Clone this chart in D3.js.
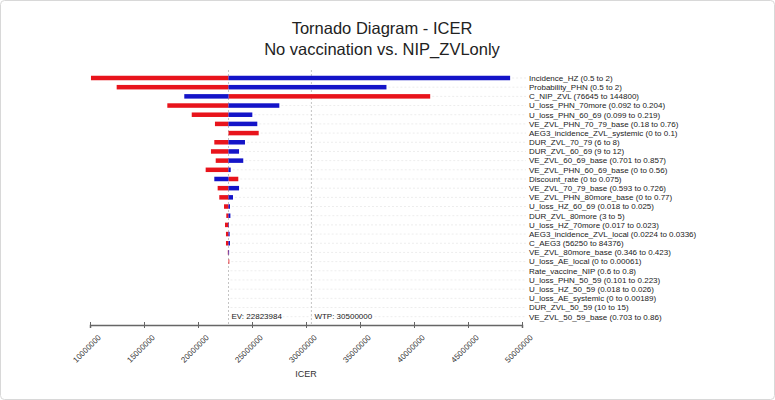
<!DOCTYPE html>
<html>
<head>
<meta charset="utf-8">
<script src="https://cdn.jsdelivr.net/npm/d3@7"></script>
<style>
body { margin: 0; background: #fff; }
svg { font-family: "Liberation Sans", Arial, sans-serif; }
</style>
</head>
<body>
<div id="chart"></div>
<script>
// parameters, top to bottom
var params = ["Incidence_HZ (0.5 to 2)", "Probability_PHN (0.5 to 2)", "C_NIP_ZVL (76645 to 144800)",
    "U_loss_PHN_70more (0.092 to 0.204)", "U_loss_PHN_60_69 (0.099 to 0.219)", "VE_ZVL_PHN_70_79_base (0.18 to 0.76)",
    "AEG3_incidence_ZVL_systemic (0 to 0.1)", "DUR_ZVL_70_79 (6 to 8)", "DUR_ZVL_60_69 (9 to 12)",
    "VE_ZVL_60_69_base (0.701 to 0.857)", "VE_ZVL_PHN_60_69_base (0 to 0.56)", "Discount_rate (0 to 0.075)",
    "VE_ZVL_70_79_base (0.593 to 0.726)", "VE_ZVL_PHN_80more_base (0 to 0.77)", "U_loss_HZ_60_69 (0.018 to 0.025)",
    "DUR_ZVL_80more (3 to 5)", "U_loss_HZ_70more (0.017 to 0.023)", "AEG3_incidence_ZVL_local (0.0224 to 0.0336)",
    "C_AEG3 (56250 to 84376)", "VE_ZVL_80more_base (0.346 to 0.423)", "U_loss_AE_local (0 to 0.00061)",
    "Rate_vaccine_NIP (0.6 to 0.8)", "U_loss_PHN_50_59 (0.101 to 0.223)", "U_loss_HZ_50_59 (0.018 to 0.026)",
    "U_loss_AE_systemic (0 to 0.00189)", "DUR_ZVL_50_59 (10 to 15)", "VE_ZVL_50_59_base (0.703 to 0.86)"];

var ev = 22823984;
var wtp = 30500000;

// ICER at the high end of each range (red) and at the low end (blue)
var icerHigh = [10090000, 12470000, 41500000, 17160000, 19420000, 21570000, 25620000, 21510000, 21200000,
    21640000, 20710000, 23730000, 21820000, 21970000, 22410000, 22620000, 22500000, 22590000,
    22590000, 22760000, 22900000, 22823984, 22823984, 22823984, 22823984, 22823984, 22823984];
var icerLow = [48900000, 37450000, 18730000, 27530000, 25030000, 25490000, 22823984, 24350000, 23800000,
    24190000, 23030000, 21510000, 23800000, 23240000, 22960000, 23000000, 22870000, 22930000,
    22960000, 22880000, 22823984, 22823984, 22823984, 22823984, 22823984, 22823984, 22823984];

var tickVals = [10000000, 15000000, 20000000, 25000000, 30000000, 35000000, 40000000, 45000000, 50000000];

var W = 775, H = 400;

var svg = d3.select("#chart").append("svg")
    .attr("width", W)
    .attr("height", H);

// light frame
svg.append("rect")
    .attr("x", 0.5).attr("y", 0.5)
    .attr("width", W - 1).attr("height", H - 1)
    .attr("rx", 4)
    .attr("fill", "#fff")
    .attr("stroke", "#d8d8d8");

var x = d3.scaleLinear().domain([10000000, 50000000]).range([90, 522]);
var y = d3.scalePoint().domain(params).range([78, 316.7]);
var barH = 4.5;
var labelX = 529;

// title
svg.append("text")
    .attr("x", 382).attr("y", 34)
    .attr("text-anchor", "middle")
    .attr("font-size", "16.5px")
    .attr("fill", "#222")
    .text("Tornado Diagram - ICER");
svg.append("text")
    .attr("x", 382).attr("y", 55)
    .attr("text-anchor", "middle")
    .attr("font-size", "16.5px")
    .attr("fill", "#222")
    .text("No vaccination vs. NIP_ZVLonly");

// faint row guides
svg.append("g").selectAll("line")
    .data(params)
    .enter().append("line")
    .attr("x1", function (d, i) { return x(Math.max(icerHigh[i], icerLow[i])) + 2; })
    .attr("x2", labelX - 3)
    .attr("y1", function (d) { return y(d); })
    .attr("y2", function (d) { return y(d); })
    .attr("stroke", "#ededed")
    .attr("stroke-dasharray", "2,2");

// EV and WTP lines
[ev, wtp].forEach(function (v) {
    svg.append("line")
        .attr("x1", x(v)).attr("x2", x(v))
        .attr("y1", 70).attr("y2", 324)
        .attr("stroke", "#c4c4c4")
        .attr("stroke-dasharray", "2,2");
});

var bars = svg.append("g").attr("class", "bars");

bars.selectAll(".red")
    .data(params)
    .enter().append("rect")
    .attr("class", "red")
    .attr("x", function (d, i) { return Math.min(x(ev), x(icerHigh[i])); })
    .attr("width", function (d, i) { return Math.abs(x(icerHigh[i]) - x(ev)); })
    .attr("y", function (d) { return y(d) - barH / 2; })
    .attr("height", barH)
    .attr("fill", "#e8141c");

bars.selectAll(".blue")
    .data(params)
    .enter().append("rect")
    .attr("class", "blue")
    .attr("x", function (d, i) { return Math.min(x(ev), x(icerLow[i])); })
    .attr("width", function (d, i) { return Math.abs(x(icerLow[i]) - x(ev)); })
    .attr("y", function (d) { return y(d) - barH / 2; })
    .attr("height", barH)
    .attr("fill", "#1414c8");

// parameter labels
svg.append("g").selectAll("text")
    .data(params)
    .enter().append("text")
    .attr("x", labelX)
    .attr("y", function (d) { return y(d); })
    .attr("dy", "0.35em")
    .attr("font-size", "8px")
    .attr("fill", "#222")
    .text(function (d) { return d; });

// EV / WTP labels
svg.append("text")
    .attr("x", x(ev) + 3).attr("y", 319)
    .attr("font-size", "8px").attr("fill", "#222")
    .text("EV: " + ev);
svg.append("text")
    .attr("x", x(wtp) + 3).attr("y", 319)
    .attr("font-size", "8px").attr("fill", "#222")
    .text("WTP: " + wtp);

// x axis
var axis = svg.append("g")
    .attr("transform", "translate(0,325)")
    .call(d3.axisBottom(x).tickValues(tickVals).tickSizeOuter(0).tickSize(3).tickFormat(d3.format("d")));

axis.select(".domain").attr("stroke", "#666").attr("stroke-width", 1.5);
axis.selectAll(".tick line").attr("y1", -3).attr("stroke", "#666");
axis.selectAll(".tick text")
    .attr("font-size", "8px")
    .attr("fill", "#333")
    .attr("y", 0).attr("dy", 0)
    .attr("text-anchor", "end")
    .attr("transform", "translate(11,13) rotate(-45)");

svg.append("text")
    .attr("x", 306).attr("y", 377)
    .attr("text-anchor", "middle")
    .attr("font-size", "9px")
    .attr("fill", "#333")
    .text("ICER");
</script>
</body>
</html>
